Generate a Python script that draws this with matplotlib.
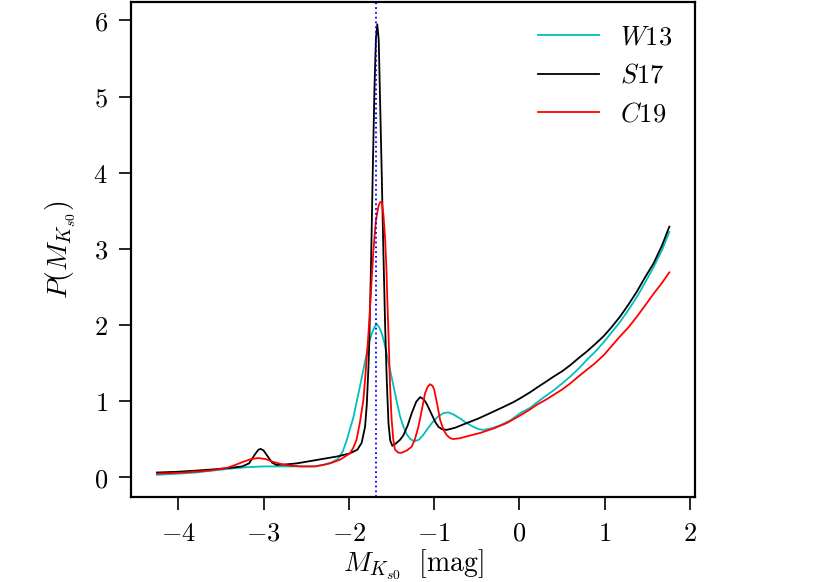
import matplotlib
matplotlib.use("Agg")
import matplotlib.pyplot as plt
from matplotlib.ticker import FuncFormatter

plt.rcParams["mathtext.fontset"] = "cm"
plt.rcParams["font.family"] = ["DejaVu Serif"]

# S17 (black)
s17_x = [-4.25, -4.0, -3.79, -3.60, -3.40, -3.25, -3.17, -3.10, -3.06, -3.035,
         -3.00, -2.95, -2.90, -2.85, -2.75, -2.61, -2.35, -2.14, -1.99, -1.90,
         -1.85, -1.81, -1.79, -1.77, -1.76, -1.74, -1.72, -1.70, -1.683, -1.667,
         -1.65, -1.635, -1.615, -1.596, -1.575, -1.555, -1.535, -1.515, -1.49,
         -1.45, -1.40, -1.36, -1.31, -1.263, -1.21, -1.165, -1.12, -1.087,
         -1.04, -0.99, -0.95, -0.91, -0.852, -0.75, -0.617, -0.48, -0.344,
         -0.2, -0.07, 0.008, 0.126, 0.204, 0.30, 0.40, 0.50, 0.595, 0.69,
         0.79, 0.89, 0.986, 1.08, 1.18, 1.28, 1.378, 1.47, 1.573, 1.67, 1.757]
s17_y = [0.06, 0.07, 0.085, 0.10, 0.12, 0.14, 0.18, 0.30, 0.36, 0.37,
         0.35, 0.27, 0.19, 0.16, 0.165, 0.18, 0.23, 0.27, 0.31, 0.36,
         0.45, 0.66, 0.95, 1.45, 1.8, 2.8, 4.0, 5.1, 5.75, 5.95,
         5.75, 5.0, 4.0, 3.0, 2.0, 1.25, 0.7, 0.48, 0.41,
         0.44, 0.49, 0.55, 0.68, 0.84, 0.99, 1.05, 1.02, 0.96,
         0.85, 0.73, 0.66, 0.63, 0.62, 0.65, 0.71, 0.77, 0.84,
         0.915, 0.985, 1.035, 1.115, 1.175, 1.245, 1.32, 1.39, 1.47, 1.56,
         1.65, 1.75, 1.85, 1.97, 2.11, 2.27, 2.44, 2.62, 2.81, 3.04, 3.29]

# W13 (cyan)
w13_x = [-4.25, -4.0, -3.79, -3.60, -3.40, -3.20, -3.00, -2.61, -2.40, -2.30,
         -2.21, -2.124, -2.07, -2.026, -1.99, -1.948, -1.91, -1.87, -1.83,
         -1.79, -1.76, -1.73, -1.70, -1.674, -1.645, -1.615, -1.585, -1.556,
         -1.518, -1.479, -1.44, -1.40, -1.36, -1.32, -1.28, -1.232, -1.18,
         -1.13, -1.087, -1.02, -0.95, -0.89, -0.833, -0.77, -0.696, -0.62,
         -0.54, -0.48, -0.42, -0.33, -0.227, -0.10, 0.008, 0.126, 0.204, 0.30,
         0.40, 0.50, 0.595, 0.69, 0.79, 0.89, 0.986, 1.08, 1.18, 1.28, 1.378,
         1.47, 1.573, 1.67, 1.757]
w13_y = [0.03, 0.045, 0.06, 0.085, 0.11, 0.13, 0.14, 0.14, 0.14, 0.16,
         0.19, 0.24, 0.34, 0.48, 0.62, 0.78, 0.98, 1.19, 1.41,
         1.63, 1.78, 1.89, 1.97, 2.01, 1.97, 1.89, 1.77, 1.62,
         1.41, 1.21, 1.0, 0.80, 0.66, 0.56, 0.50, 0.47, 0.49,
         0.55, 0.62, 0.72, 0.80, 0.84, 0.85, 0.82, 0.77, 0.71,
         0.66, 0.63, 0.62, 0.64, 0.68, 0.75, 0.84, 0.91, 0.98, 1.06,
         1.14, 1.23, 1.32, 1.42, 1.54, 1.65, 1.77, 1.90, 2.04, 2.20, 2.37,
         2.55, 2.76, 2.98, 3.22]

# C19 (red)
c19_x = [-4.25, -4.0, -3.79, -3.60, -3.43, -3.33, -3.24, -3.15, -3.06, -2.97,
         -2.89, -2.79, -2.69, -2.55, -2.40, -2.30, -2.22, -2.10, -1.99, -1.95,
         -1.91, -1.87, -1.83, -1.80, -1.77, -1.74, -1.714, -1.685, -1.655,
         -1.635, -1.615, -1.595, -1.576, -1.56, -1.549, -1.533, -1.518, -1.50,
         -1.479, -1.459, -1.42, -1.38, -1.32, -1.263, -1.225, -1.185, -1.145,
         -1.107, -1.075, -1.048, -1.02, -1.00, -0.965, -0.93, -0.89, -0.852,
         -0.81, -0.775, -0.70, -0.60, -0.46, -0.30, -0.148, 0.008, 0.126,
         0.204, 0.30, 0.40, 0.50, 0.595, 0.69, 0.79, 0.89, 0.986, 1.08, 1.18,
         1.28, 1.378, 1.47, 1.573, 1.67, 1.757]
c19_y = [0.045, 0.055, 0.07, 0.09, 0.12, 0.16, 0.20, 0.235, 0.25, 0.235,
         0.20, 0.17, 0.15, 0.14, 0.14, 0.16, 0.18, 0.23, 0.31, 0.38,
         0.49, 0.72, 1.01, 1.42, 1.89, 2.45, 2.95, 3.35, 3.55,
         3.61, 3.62, 3.45, 3.15, 2.75, 2.33, 1.8, 1.23, 0.78,
         0.49, 0.36, 0.32, 0.32, 0.35, 0.40, 0.50, 0.66, 0.88,
         1.10, 1.19, 1.22, 1.20, 1.15, 0.96, 0.75, 0.62, 0.55,
         0.51, 0.50, 0.51, 0.54, 0.58, 0.64, 0.71, 0.81, 0.89,
         0.95, 1.01, 1.08, 1.15, 1.23, 1.32, 1.41, 1.50, 1.60, 1.72, 1.85,
         1.97, 2.11, 2.25, 2.41, 2.55, 2.69]

rc_mag = -1.685

fig = plt.figure(figsize=(8.3, 5.82), dpi=100)
ax = fig.add_axes([0.1582, 0.1455, 0.6791, 0.8516])

ax.plot(w13_x, w13_y, color="c", lw=1.3, label=r"$W13$")
ax.plot(s17_x, s17_y, color="k", lw=1.3, label=r"$S17$")
ax.plot(c19_x, c19_y, color="r", lw=1.3, label=r"$C19$")
ax.axvline(rc_mag, color="b", ls=":", lw=1.3)

fmt = FuncFormatter(lambda v, pos: r"$%g$" % v)
ax.xaxis.set_major_formatter(fmt)
ax.yaxis.set_major_formatter(fmt)
ax.tick_params(labelsize=19, length=9, width=1.2, pad=8)
for sp in ax.spines.values():
    sp.set_linewidth(1.6)

ax.set_xlabel(r"$M_{K_{s0}}\ \ \mathrm{[mag]}$", fontsize=20, labelpad=1)
ax.set_ylabel(r"$P(M_{K_{s0}})$", fontsize=20, labelpad=12)
ax.legend(loc="upper right", frameon=False, fontsize=19, handlelength=2.3,
          labelspacing=0.52, borderaxespad=0.45)

fig.savefig("out.png", dpi=100)
